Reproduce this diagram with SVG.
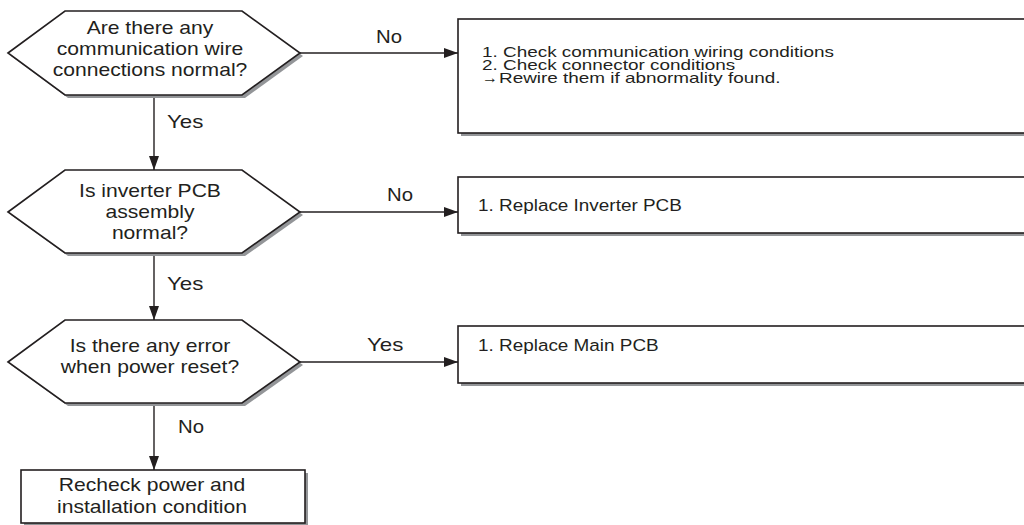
<svg xmlns="http://www.w3.org/2000/svg" width="1024" height="525" viewBox="0 0 1024 525">
<style>
.shape{fill:#fff;stroke:#231f20;stroke-width:1.6}
.shadow{fill:#939598;stroke:none}
.conn{stroke:#231f20;stroke-width:1.4;fill:none}
.t{font-family:"Liberation Sans",Arial,Helvetica,sans-serif;font-size:18.6px;fill:#231f20}
.c{text-anchor:middle}
.b{font-family:"Liberation Sans",Arial,Helvetica,sans-serif;font-size:16.7px;fill:#231f20}
.bs{font-family:"Liberation Sans",Arial,Helvetica,sans-serif;font-size:15px;fill:#231f20}
</style>
<defs>
<marker id="ah" viewBox="0 0 14 10" refX="14" refY="5" markerWidth="14" markerHeight="10" markerUnits="userSpaceOnUse" orient="auto">
<path d="M0,0 L14,5 L0,10 Z" fill="#231f20"/>
</marker>
</defs>
<rect width="1024" height="525" fill="#fff"/>

<g id="connectors">
<line class="conn" x1="300" y1="53" x2="458" y2="53" marker-end="url(#ah)"/>
<line class="conn" x1="154" y1="95" x2="154" y2="170" marker-end="url(#ah)"/>
<line class="conn" x1="300" y1="212" x2="458" y2="212" marker-end="url(#ah)"/>
<line class="conn" x1="154" y1="253" x2="154" y2="320" marker-end="url(#ah)"/>
<line class="conn" x1="300" y1="362" x2="458" y2="362" marker-end="url(#ah)"/>
<line class="conn" x1="154" y1="403" x2="154" y2="470" marker-end="url(#ah)"/>
<text class="t" x="376" y="43" textLength="26" lengthAdjust="spacingAndGlyphs">No</text>
<text class="t" x="167" y="128" textLength="36.4" lengthAdjust="spacingAndGlyphs">Yes</text>
<text class="t" x="387" y="201" textLength="26" lengthAdjust="spacingAndGlyphs">No</text>
<text class="t" x="167" y="290" textLength="36.4" lengthAdjust="spacingAndGlyphs">Yes</text>
<text class="t" x="367" y="351" textLength="36.4" lengthAdjust="spacingAndGlyphs">Yes</text>
<text class="t" x="178" y="433" textLength="26" lengthAdjust="spacingAndGlyphs">No</text>
</g>

<g id="q1">
<polygon class="shadow" points="11,56 68,14 245,14 303,56 245,98 68,98"/>
<polygon class="shape" points="8,53 65,11 242,11 300,53 242,95 65,95"/>
<text class="t c" x="150" y="34" textLength="126.7" lengthAdjust="spacingAndGlyphs">Are there any</text>
<text class="t c" x="150" y="55" textLength="186.4" lengthAdjust="spacingAndGlyphs">communication wire</text>
<text class="t c" x="150" y="76" textLength="194.7" lengthAdjust="spacingAndGlyphs">connections normal?</text>
</g>

<g id="a1">
<rect class="shadow" x="461" y="22" width="580" height="114"/>
<rect class="shape" x="458" y="19" width="580" height="114"/>
<text class="bs" x="482" y="57" textLength="352" lengthAdjust="spacingAndGlyphs">1. Check communication wiring conditions</text>
<text class="bs" x="482" y="70" textLength="253.2" lengthAdjust="spacingAndGlyphs">2. Check connector conditions</text>
<text class="bs" x="482" y="83"><tspan font-size="16">→</tspan><tspan x="499" textLength="281.5" lengthAdjust="spacingAndGlyphs">Rewire them if abnormality found.</tspan></text>
</g>

<g id="q2">
<polygon class="shadow" points="11,215 68,173 245,173 303,215 245,256 68,256"/>
<polygon class="shape" points="8,212 65,170 242,170 300,212 242,253 65,253"/>
<text class="t c" x="150" y="197" textLength="141.9" lengthAdjust="spacingAndGlyphs">Is inverter PCB</text>
<text class="t c" x="150" y="218" textLength="89.1" lengthAdjust="spacingAndGlyphs">assembly</text>
<text class="t c" x="150" y="239" textLength="76.2" lengthAdjust="spacingAndGlyphs">normal?</text>
</g>

<g id="a2">
<rect class="shadow" x="461" y="180" width="580" height="56"/>
<rect class="shape" x="458" y="177" width="580" height="56"/>
<text class="b" x="478" y="211" textLength="203.8" lengthAdjust="spacingAndGlyphs">1. Replace Inverter PCB</text>
</g>

<g id="q3">
<polygon class="shadow" points="11,365 68,323 245,323 303,365 245,406 68,406"/>
<polygon class="shape" points="8,362 65,320 242,320 300,362 242,403 65,403"/>
<text class="t c" x="150" y="352" textLength="160.7" lengthAdjust="spacingAndGlyphs">Is there any error</text>
<text class="t c" x="150" y="373" textLength="178.3" lengthAdjust="spacingAndGlyphs">when power reset?</text>
</g>

<g id="a3">
<rect class="shadow" x="461" y="329" width="580" height="57"/>
<rect class="shape" x="458" y="326" width="580" height="57"/>
<text class="b" x="478" y="351" textLength="180.7" lengthAdjust="spacingAndGlyphs">1. Replace Main PCB</text>
</g>

<g id="end">
<rect class="shadow" x="24" y="473" width="284" height="53"/>
<rect class="shape" x="21" y="470" width="284" height="53"/>
<text class="t c" x="152" y="491" textLength="186.5" lengthAdjust="spacingAndGlyphs">Recheck power and</text>
<text class="t c" x="152" y="513" textLength="190" lengthAdjust="spacingAndGlyphs">installation condition</text>
</g>
</svg>
